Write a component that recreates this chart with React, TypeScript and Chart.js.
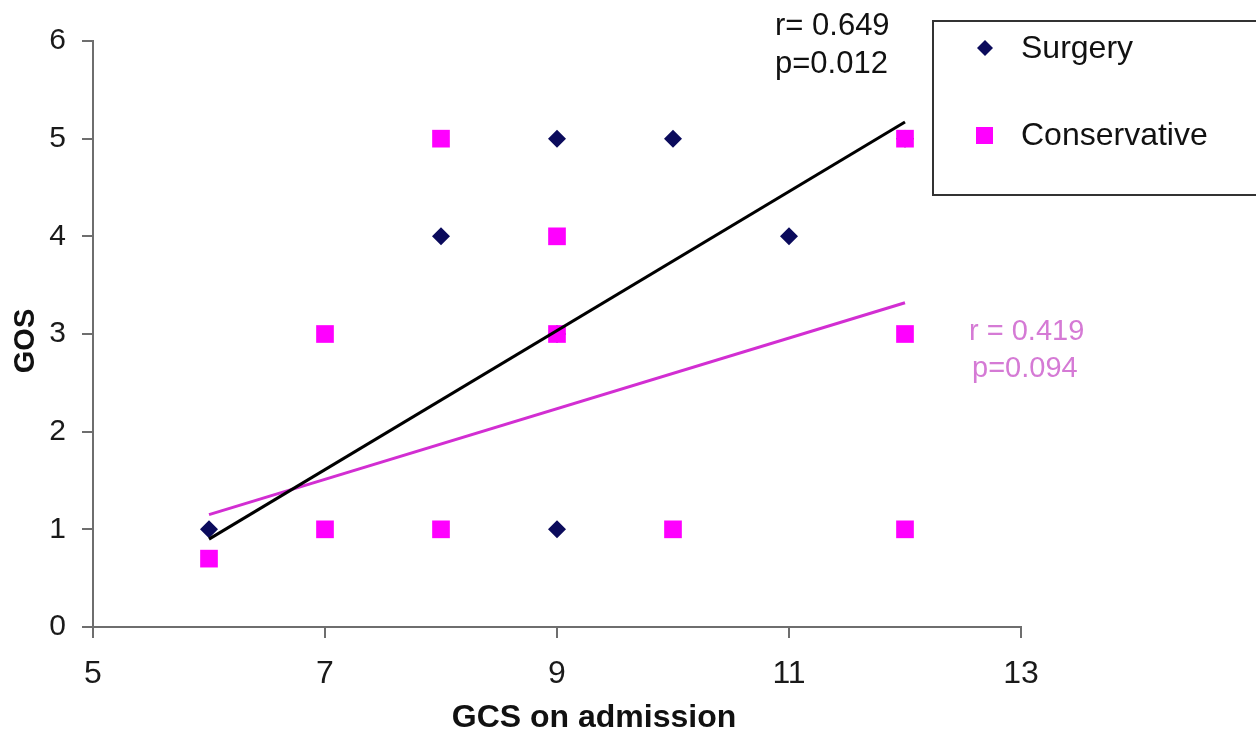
import React, { useEffect, useRef } from "react";
import { Chart, registerables } from "chart.js";

Chart.register(...registerables);

const surgeryGCS = [6, 8, 9, 10, 11, 9, 9, 12];
const surgeryGOS = [1, 4, 5, 5, 4, 1, 3, 5];
const conservativeGCS = [6, 7, 7, 8, 8, 9, 9, 10, 12, 12, 12];
const conservativeGOS = [0.7, 3, 1, 5, 1, 4, 3, 1, 5, 3, 1];
const surgeryTrendX = [6, 12];
const surgeryTrendY = [0.9, 5.17];
const conservativeTrendX = [6, 12];
const conservativeTrendY = [1.15, 3.32];
const xTicks = [5, 7, 9, 11, 13];
const yTicks = [0, 1, 2, 3, 4, 5, 6];
const seriesNames = ["Surgery", "Conservative"];
const surgeryStats = ["r= 0.649", "p=0.012"];
const conservativeStats = ["r = 0.419", "p=0.094"];
const xTitle = "GCS on admission";
const yTitle = "GOS";

const NAVY = "#0b0b5c";
const MAGENTA = "#ff00ff";
const TREND_PINK = "#d22ed2";
const FONT = "'Liberation Sans', Arial, sans-serif";

const zip = (xs: number[], ys: number[]) => xs.map((x, i) => ({ x, y: ys[i] }));

export default function App() {
  const ref = useRef<HTMLCanvasElement | null>(null);

  useEffect(() => {
    if (!ref.current) return;
    const overlay = {
      id: "overlay",
      afterDraw(chart: any) {
        const ctx = chart.ctx as CanvasRenderingContext2D;
        ctx.save();
        // axis titles
        ctx.fillStyle = "#111";
        ctx.font = `bold 32px ${FONT}`;
        ctx.textAlign = "center";
        ctx.textBaseline = "middle";
        ctx.fillText(xTitle, 594, 718);
        ctx.save();
        ctx.translate(26, 341);
        ctx.rotate(-Math.PI / 2);
        ctx.font = `bold 29px ${FONT}`;
        ctx.fillText(yTitle, 0, 0);
        ctx.restore();
        // annotations
        ctx.font = `31px ${FONT}`;
        ctx.textAlign = "left";
        ctx.fillStyle = "#111";
        ctx.fillText(surgeryStats[0], 775, 26);
        ctx.fillText(surgeryStats[1], 775, 64);
        ctx.font = `29px ${FONT}`;
        ctx.fillStyle = "#d57ad5";
        ctx.fillText(conservativeStats[0], 969, 332);
        ctx.fillText(conservativeStats[1], 972, 369);
        // legend box
        ctx.fillStyle = "#fff";
        ctx.fillRect(933, 21, 330, 174);
        ctx.strokeStyle = "#333";
        ctx.lineWidth = 2;
        ctx.strokeRect(933, 21, 330, 174);
        ctx.fillStyle = NAVY;
        ctx.beginPath();
        ctx.moveTo(985, 40);
        ctx.lineTo(993, 48);
        ctx.lineTo(985, 56);
        ctx.lineTo(977, 48);
        ctx.closePath();
        ctx.fill();
        ctx.fillStyle = MAGENTA;
        ctx.fillRect(976, 127, 17, 17);
        ctx.fillStyle = "#111";
        ctx.font = `32px ${FONT}`;
        ctx.fillText(seriesNames[0], 1021, 49);
        ctx.fillText(seriesNames[1], 1021, 136);
        ctx.restore();
      },
    };

    const chart = new Chart(ref.current, {
      type: "scatter",
      data: {
        datasets: [
          {
            type: "line",
            label: "Surgery trend",
            data: zip(surgeryTrendX, surgeryTrendY),
            borderColor: "#000",
            borderWidth: 3,
            pointRadius: 0,
            showLine: true,
            order: 0,
          } as any,
          {
            type: "line",
            label: "Conservative trend",
            data: zip(conservativeTrendX, conservativeTrendY),
            borderColor: TREND_PINK,
            borderWidth: 3,
            pointRadius: 0,
            showLine: true,
            order: 1,
          } as any,
          {
            label: seriesNames[1],
            data: zip(conservativeGCS, conservativeGOS),
            pointStyle: "rect",
            pointRadius: 12.5,
            backgroundColor: MAGENTA,
            borderColor: MAGENTA,
            borderWidth: 0,
            order: 2,
          },
          {
            label: seriesNames[0],
            data: zip(surgeryGCS, surgeryGOS),
            pointStyle: "rectRot",
            pointRadius: 9,
            backgroundColor: NAVY,
            borderColor: NAVY,
            borderWidth: 0,
            order: 3,
          },
        ],
      },
      options: {
        animation: false,
        responsive: false,
        events: [],
        layout: { padding: { top: 41, right: 235, left: 0, bottom: 0 } },
        plugins: {
          legend: { display: false },
          tooltip: { enabled: false },
        },
        scales: {
          x: {
            type: "linear",
            min: 5,
            max: 13,
            afterBuildTicks: (s: any) => {
              s.ticks = xTicks.map((v) => ({ value: v }));
            },
            afterFit: (s: any) => {
              s.height = 108;
            },
            grid: {
              drawOnChartArea: false,
              drawTicks: true,
              tickLength: 11,
              color: "#6e6e6e",
              lineWidth: 2,
            },
            border: { display: true, color: "#6e6e6e", width: 2 },
            ticks: {
              padding: 17,
              color: "#1a1a1a",
              font: { family: FONT, size: 32 },
            },
          },
          y: {
            type: "linear",
            min: 0,
            max: 6,
            afterBuildTicks: (s: any) => {
              s.ticks = yTicks.map((v) => ({ value: v }));
            },
            afterFit: (s: any) => {
              s.width = 93;
            },
            grid: {
              drawOnChartArea: false,
              drawTicks: true,
              tickLength: 11,
              color: "#6e6e6e",
              lineWidth: 2,
            },
            border: { display: true, color: "#6e6e6e", width: 2 },
            ticks: {
              padding: 16,
              color: "#1a1a1a",
              font: { family: FONT, size: 30 },
            },
          },
        },
      },
      plugins: [overlay],
    });
    return () => chart.destroy();
  }, []);

  return (
    <div style={{ position: "absolute", left: 0, top: 0, width: 1256, height: 735, background: "#fff" }}>
      <canvas ref={ref} width={1256} height={735} style={{ display: "block" }} />
    </div>
  );
}
